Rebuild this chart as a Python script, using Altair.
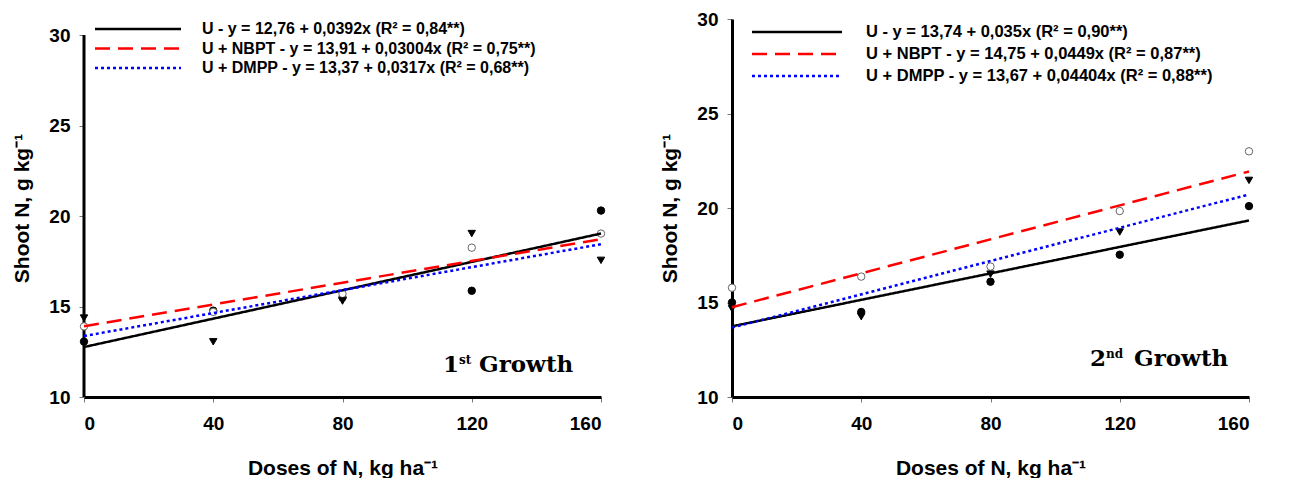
import altair as alt
import pandas as pd

# ---------------- data ----------------
doses = [0, 40, 80, 120, 160]
treatments = ["U", "U + NBPT", "U + DMPP"]

# 1st growth observed means (g kg-1)
g1_u = [13.06, 14.77, 15.50, 15.87, 20.30]
g1_nbpt = [13.90, 14.70, 15.70, 18.25, 19.03]
g1_dmpp = [14.36, 13.05, 15.30, 19.03, 17.55]

# 2nd growth observed means (g kg-1)
g2_u = [15.00, 14.50, 16.10, 17.53, 20.10]
g2_nbpt = [15.78, 16.37, 16.90, 19.84, 23.00]
g2_dmpp = [14.67, 14.25, 16.50, 18.73, 21.46]

# fitted equations shown in the legends
g1_intercept = [12.76, 13.91, 13.37]
g1_slope = [0.0392, 0.03004, 0.0317]
g2_intercept = [13.74, 14.75, 13.67]
g2_slope = [0.035, 0.0449, 0.04404]

g1_eq = ["U - y = 12,76 + 0,0392x (R\u00b2 = 0,84**)",
         "U + NBPT - y = 13,91 + 0,03004x (R\u00b2 = 0,75**)",
         "U + DMPP - y = 13,37 + 0,0317x (R\u00b2 = 0,68**)"]
g2_eq = ["U - y = 13,74 + 0,035x (R\u00b2 = 0,90**)",
         "U + NBPT - y = 14,75 + 0,0449x (R\u00b2 = 0,87**)",
         "U + DMPP -  y = 13,67 + 0,04404x (R\u00b2 = 0,88**)"]

growth_labels = [("1", "st", "Growth"), ("2", "nd", "Growth")]

x_ticks = [0, 40, 80, 120, 160]
y_ticks = [10, 15, 20, 25, 30]

x_title = "Doses of N, kg ha\u207b\u00b9"
y_title = "Shoot N, g kg\u207b\u00b9"

# ---------------- styles ----------------
COLORS = ["#000000", "#ff0000", "#0000ff"]
DASHES = [[1, 0], [15, 8], [3, 3]]
SHAPES = ["circle", "circle", "triangle-down"]
FILLS = ["#000000", "#ffffff", "#000000"]
STROKES = ["#000000", "#666666", "#000000"]

W = 517
H = 378
SANS = "Liberation Sans"


def panel(obs, intercepts, slopes, eqs, ytop, draw_y_rule, leg_rows, leg_x0, leg_x1, leg_xt,
          leg_fs, growth, gx, gy):
    xs = alt.Scale(domain=[x_ticks[0], x_ticks[-1]], nice=False, zero=False)
    ys = alt.Scale(domain=[y_ticks[0], ytop], nice=False, zero=False)
    px_x = (x_ticks[-1] - x_ticks[0]) / W
    px_y = (ytop - y_ticks[0]) / H

    rows = []
    for t, vals in zip(treatments, obs):
        for d, v in zip(doses, vals):
            rows.append({"dose": d, "N": v, "treatment": t})
    obs_df = pd.DataFrame(rows)

    lrows = []
    for t, a, b in zip(treatments, intercepts, slopes):
        for d in (doses[0], doses[-1]):
            lrows.append({"dose": d, "N": a + b * d, "treatment": t})
    line_df = pd.DataFrame(lrows)

    leg_df = pd.DataFrame({
        "treatment": treatments,
        "eq": eqs,
        "x0": [leg_x0 * px_x] * 3,
        "x1": [leg_x1 * px_x] * 3,
        "xt": [leg_xt * px_x] * 3,
        "y": [ytop - r * px_y for r in leg_rows],
    })

    color = alt.Color("treatment:N", scale=alt.Scale(domain=treatments, range=COLORS), legend=None)
    dash = alt.StrokeDash("treatment:N", scale=alt.Scale(domain=treatments, range=DASHES), legend=None)

    xaxis = alt.Axis(values=x_ticks, title=x_title, domain=True, labelPadding=12,
                     titlePadding=24, tickSize=5)
    yaxis = alt.Axis(values=y_ticks, title=y_title, domain=not draw_y_rule, labelPadding=9,
                     titlePadding=16, tickSize=5)

    base_x = alt.X("dose:Q", scale=xs, axis=xaxis)
    base_y = alt.Y("N:Q", scale=ys, axis=yaxis)

    points = alt.Chart(obs_df).mark_point(filled=True, opacity=1, size=55, strokeWidth=1,
                                          clip=False).encode(
        x=base_x, y=base_y,
        shape=alt.Shape("treatment:N", scale=alt.Scale(domain=treatments, range=SHAPES), legend=None),
        fill=alt.Fill("treatment:N", scale=alt.Scale(domain=treatments, range=FILLS), legend=None),
        stroke=alt.Stroke("treatment:N", scale=alt.Scale(domain=treatments, range=STROKES), legend=None),
    )

    lines = alt.Chart(line_df).mark_line(strokeWidth=2.5, clip=False).encode(
        x=alt.X("dose:Q", scale=xs), y=alt.Y("N:Q", scale=ys), color=color, strokeDash=dash)

    leg_lines = alt.Chart(leg_df).mark_rule(strokeWidth=2.5).encode(
        x=alt.X("x0:Q", scale=xs), x2="x1:Q", y=alt.Y("y:Q", scale=ys), color=color, strokeDash=dash)

    leg_text = alt.Chart(leg_df).mark_text(align="left", baseline="middle", font=SANS,
                                           fontSize=leg_fs, fontWeight="bold", color="black").encode(
        x=alt.X("xt:Q", scale=xs), y=alt.Y("y:Q", scale=ys), text="eq:N")

    gdf = pd.DataFrame({"num": [growth[0]], "sup": [growth[1]], "word": [growth[2]]})
    g_num = alt.Chart(gdf).mark_text(align="left", baseline="alphabetic", font="DejaVu Serif",
                                     fontSize=23, fontWeight="bold", color="black").encode(
        x=alt.value(gx), y=alt.value(gy), text="num:N")
    g_sup = alt.Chart(gdf).mark_text(align="left", baseline="alphabetic", font="DejaVu Serif",
                                     fontSize=12, fontWeight="bold", color="black").encode(
        x=alt.value(gx + 16), y=alt.value(gy - 8), text="sup:N")
    g_word = alt.Chart(gdf).mark_text(align="left", baseline="alphabetic", font="DejaVu Serif",
                                      fontSize=23, fontWeight="bold", color="black").encode(
        x=alt.value(gx + (36 if growth[1] == "st" else 44)), y=alt.value(gy), text="word:N")

    layers = []
    if draw_y_rule:
        rule_df = pd.DataFrame({"dose": [x_ticks[0]], "lo": [y_ticks[0]], "hi": [y_ticks[-1]]})
        layers.append(alt.Chart(rule_df).mark_rule(strokeWidth=3, color="black").encode(
            x=alt.X("dose:Q", scale=xs), y=alt.Y("lo:Q", scale=ys), y2="hi:Q"))
    layers += [points, lines, leg_lines, leg_text, g_num, g_sup, g_word]
    return alt.layer(*layers).properties(width=W, height=H)


H1_TOP = y_ticks[0] + (y_ticks[-1] - y_ticks[0]) * H / 362.0

p1 = panel([g1_u, g1_nbpt, g1_dmpp], g1_intercept, g1_slope, g1_eq, H1_TOP, True,
           [10, 29.5, 49], 11, 97, 118, 16, growth_labels[0], 359, 353)
p2 = panel([g2_u, g2_nbpt, g2_dmpp], g2_intercept, g2_slope, g2_eq, y_ticks[-1], False,
           [13, 35, 57], 20, 110, 134, 16.5, growth_labels[1], 358, 347)

chart = alt.hconcat(p1, p2, spacing=52).properties(
    padding={"left": 11, "top": 10, "right": 0, "bottom": 0},
    background="white",
).configure_view(stroke=None).configure_axis(
    grid=False, domainColor="black", domainWidth=3, tickColor="#777777", tickWidth=1,
    labelFont=SANS, labelFontSize=19, labelFontWeight="bold", labelColor="black",
    titleFont=SANS, titleFontSize=21, titleFontWeight="bold", titleColor="black",
)

chart.save("out.html", embed_options={"renderer": "svg", "actions": False})
